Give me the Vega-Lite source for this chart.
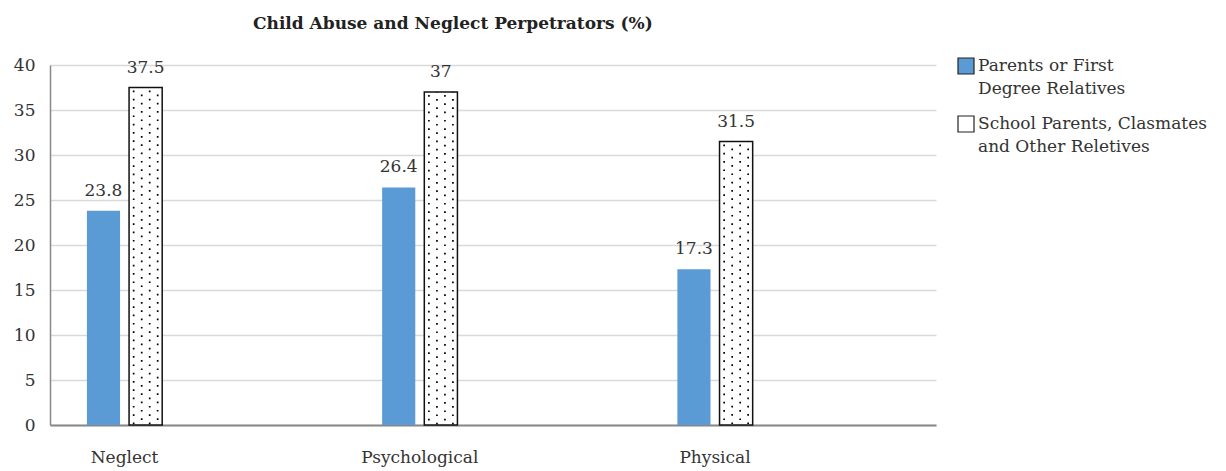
{
  "$schema": "https://vega.github.io/schema/vega-lite/v6.json",
  "width": 886,
  "height": 360,
  "autosize": {"type": "none"},
  "padding": {"left": 50, "top": 65, "right": 290, "bottom": 46},
  "background": "white",
  "title": {
    "text": "Child Abuse and Neglect Perpetrators (%)",
    "anchor": "start",
    "frame": "group",
    "dx": 203,
    "offset": 23,
    "font": "DejaVu Serif",
    "fontSize": 17,
    "fontWeight": "bold",
    "color": "#222222"
  },
  "data": {
    "values": [
      {"cat": "Neglect", "series": "Parents or First Degree Relatives", "value": 23.8},
      {"cat": "Neglect", "series": "School Parents, Clasmates and Other Reletives", "value": 37.5},
      {"cat": "Psychological", "series": "Parents or First Degree Relatives", "value": 26.4},
      {"cat": "Psychological", "series": "School Parents, Clasmates and Other Reletives", "value": 37},
      {"cat": "Physical", "series": "Parents or First Degree Relatives", "value": 17.3},
      {"cat": "Physical", "series": "School Parents, Clasmates and Other Reletives", "value": 31.5}
    ]
  },
  "encoding": {
    "x": {
      "field": "cat",
      "type": "nominal",
      "sort": ["Neglect", "Psychological", "Physical"],
      "scale": {"paddingInner": 0.745, "paddingOuter": 0.373, "align": 0.1676},
      "axis": {
        "title": null,
        "labelAngle": 0,
        "ticks": false,
        "labelPadding": 24,
        "domainColor": "#888888",
        "domainWidth": 2,
        "labelFont": "DejaVu Serif",
        "labelFontSize": 17,
        "labelColor": "#333333"
      }
    },
    "y": {
      "field": "value",
      "type": "quantitative",
      "scale": {"domain": [0, 40], "nice": false},
      "axis": {
        "title": null,
        "values": [0, 5, 10, 15, 20, 25, 30, 35, 40],
        "ticks": false,
        "labelPadding": 15,
        "grid": true,
        "gridColor": "#d9d9d9",
        "gridWidth": 1.5,
        "domainColor": "#888888",
        "domainWidth": 1.5,
        "labelFont": "DejaVu Serif",
        "labelFontSize": 17,
        "labelColor": "#333333"
      }
    }
  },
  "layer": [
    {
      "mark": {"type": "bar", "strokeWidth": 1.5},
      "encoding": {
        "xOffset": {
          "field": "series",
          "type": "nominal",
          "scale": {"paddingInner": 0.214, "paddingOuter": 0}
        },
        "fill": {
          "field": "series",
          "type": "nominal",
          "scale": {
            "domain": ["Parents or First Degree Relatives", "School Parents, Clasmates and Other Reletives"],
            "range": ["#5B9BD5", "#ffffff"]
          },
          "legend": {
            "title": null,
            "orient": "none",
            "legendX": 907,
            "legendY": -8,
            "symbolType": "square",
            "symbolSize": 256,
            "symbolStrokeColor": "#222222",
            "symbolStrokeWidth": 1.2,
            "labelFont": "DejaVu Serif",
            "labelFontSize": 17,
            "labelColor": "#333333",
            "labelLimit": 400,
            "labelOffset": 3,
            "rowPadding": 16,
            "labelExpr": "datum.label === 'Parents or First Degree Relatives' ? ['Parents or First', 'Degree Relatives'] : ['School Parents, Clasmates', 'and Other Reletives']"
          }
        },
        "stroke": {
          "condition": {"test": "datum.series === 'School Parents, Clasmates and Other Reletives'", "value": "#111111"},
          "value": "transparent"
        }
      }
    },
    {
      "transform": [{"filter": "datum.series === 'School Parents, Clasmates and Other Reletives'"}],
      "mark": {"type": "rule", "color": "#000000", "strokeWidth": 1.7, "strokeDash": [1.7, 6.6], "strokeDashOffset": -3},
      "encoding": {
        "x": {"field": "cat", "type": "nominal", "sort": ["Neglect", "Psychological", "Physical"], "bandPosition": 0.621},
        "y2": {"datum": 0}
      }
    },
    {
      "transform": [{"filter": "datum.series === 'School Parents, Clasmates and Other Reletives'"}],
      "mark": {"type": "rule", "color": "#000000", "strokeWidth": 1.7, "strokeDash": [1.7, 6.6], "strokeDashOffset": -7},
      "encoding": {
        "x": {"field": "cat", "type": "nominal", "sort": ["Neglect", "Psychological", "Physical"], "bandPosition": 0.728},
        "y2": {"datum": 0}
      }
    },
    {
      "transform": [{"filter": "datum.series === 'School Parents, Clasmates and Other Reletives'"}],
      "mark": {"type": "rule", "color": "#000000", "strokeWidth": 1.7, "strokeDash": [1.7, 6.6], "strokeDashOffset": -3},
      "encoding": {
        "x": {"field": "cat", "type": "nominal", "sort": ["Neglect", "Psychological", "Physical"], "bandPosition": 0.834},
        "y2": {"datum": 0}
      }
    },
    {
      "transform": [{"filter": "datum.series === 'School Parents, Clasmates and Other Reletives'"}],
      "mark": {"type": "rule", "color": "#000000", "strokeWidth": 1.7, "strokeDash": [1.7, 6.6], "strokeDashOffset": -7},
      "encoding": {
        "x": {"field": "cat", "type": "nominal", "sort": ["Neglect", "Psychological", "Physical"], "bandPosition": 0.94},
        "y2": {"datum": 0}
      }
    },
    {
      "mark": {"type": "text", "font": "DejaVu Serif", "fontSize": 17, "color": "#333333", "baseline": "alphabetic", "dy": -15},
      "encoding": {
        "xOffset": {
          "field": "series",
          "type": "nominal",
          "scale": {"paddingInner": 0.214, "paddingOuter": 0}
        },
        "text": {"field": "value", "type": "quantitative"}
      }
    }
  ],
  "config": {
    "view": {"stroke": null},
    "style": {"guide-label": {"lineHeight": 23}}
  }
}
